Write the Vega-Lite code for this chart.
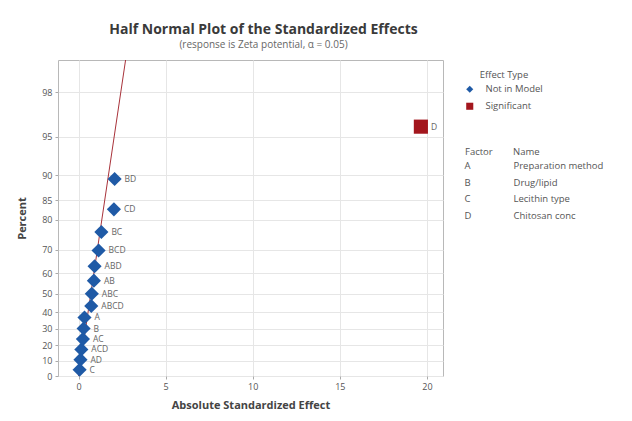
{
  "$schema": "https://vega.github.io/schema/vega-lite/v6.json",
  "width": 385,
  "height": 316,
  "autosize": {"type": "none"},
  "padding": {"left": 58, "top": 60, "right": 189, "bottom": 45},
  "background": "white",
  "config": {
    "font": "Open Sans",
    "view": {"stroke": "#b8b8b8", "strokeWidth": 1},
    "axis": {
      "domain": false,
      "gridColor": "#e6e6e6",
      "gridWidth": 1,
      "tickColor": "#aaaaaa",
      "tickSize": 3,
      "labelColor": "#555555",
      "labelFontSize": 9,
      "labelPadding": 3,
      "titleColor": "#444444",
      "titleFontSize": 11,
      "titleFontWeight": "bold"
    },
    "legend": {
      "labelColor": "#555555",
      "titleColor": "#555555",
      "labelFontSize": 9.5,
      "titleFontSize": 9.5,
      "titleFontWeight": "normal"
    }
  },
  "title": {
    "text": "Half Normal Plot of the Standardized Effects",
    "subtitle": "(response is Zeta potential, α = 0.05)",
    "fontSize": 14,
    "fontWeight": "bold",
    "color": "#3a3a3a",
    "subtitleFontSize": 10,
    "subtitleColor": "#666666",
    "subtitlePadding": 3,
    "offset": 8,
    "dx": 13
  },
  "datasets": {
    "effects": [
      {"term": "C", "effect": 0.06, "score": 0.0514, "type": "Not in Model"},
      {"term": "AD", "effect": 0.11, "score": 0.1341, "type": "Not in Model"},
      {"term": "ACD", "effect": 0.16, "score": 0.2176, "type": "Not in Model"},
      {"term": "AC", "effect": 0.25, "score": 0.3024, "type": "Not in Model"},
      {"term": "B", "effect": 0.29, "score": 0.3892, "type": "Not in Model"},
      {"term": "A", "effect": 0.34, "score": 0.4796, "type": "Not in Model"},
      {"term": "ABCD", "effect": 0.73, "score": 0.5738, "type": "Not in Model"},
      {"term": "ABC", "effect": 0.76, "score": 0.6745, "type": "Not in Model"},
      {"term": "AB", "effect": 0.88, "score": 0.7817, "type": "Not in Model"},
      {"term": "ABD", "effect": 0.92, "score": 0.8991, "type": "Not in Model"},
      {"term": "BCD", "effect": 1.15, "score": 1.029, "type": "Not in Model"},
      {"term": "BC", "effect": 1.31, "score": 1.1804, "type": "Not in Model"},
      {"term": "CD", "effect": 2.03, "score": 1.3658, "type": "Not in Model"},
      {"term": "BD", "effect": 2.07, "score": 1.6143, "type": "Not in Model"},
      {"term": "D", "effect": 19.65, "score": 2.0437, "type": "Significant"}
    ],
    "refline": [
      {"effect": 0, "score": 0},
      {"effect": 2.7, "score": 2.59}
    ],
    "factors": [
      {"Factor": "A", "Name": "Preparation method"},
      {"Factor": "B", "Name": "Drug/lipid"},
      {"Factor": "C", "Name": "Lecithin type"},
      {"Factor": "D", "Name": "Chitosan conc"}
    ]
  },
  "layer": [
    {
      "data": {"name": "refline"},
      "mark": {"type": "line", "color": "#a8323a", "strokeWidth": 1},
      "encoding": {
        "x": {
          "field": "effect",
          "type": "quantitative",
          "scale": {"domain": [-1.18, 20.92], "nice": false, "zero": false},
          "axis": {
            "values": [0, 5, 10, 15, 20],
            "tickCount": 10,
            "title": "Absolute Standardized Effect",
            "titlePadding": 8
          }
        },
        "y": {
          "field": "score",
          "type": "quantitative",
          "scale": {"domain": [0, 2.59], "nice": false, "zero": false},
          "axis": {
            "values": [0, 0.1257, 0.2533, 0.3853, 0.5244, 0.6745, 0.8416, 1.0364, 1.2816, 1.4395, 1.6449, 1.96, 2.3263],
            "tickCount": 20,
            "labelExpr": "format(200*cumulativeNormal(datum.value)-100, '.0f')",
            "labelOverlap": false,
            "labelSeparation": 0,
            "title": "Percent",
            "titlePadding": 14
          }
        }
      }
    },
    {
      "data": {"name": "effects"},
      "mark": {"type": "point", "filled": true, "opacity": 1, "size": 200},
      "encoding": {
        "x": {"field": "effect", "type": "quantitative"},
        "y": {"field": "score", "type": "quantitative"},
        "color": {
          "field": "type",
          "type": "nominal",
          "scale": {"domain": ["Not in Model", "Significant"], "range": ["#1f5aa6", "#a3161d"]},
          "legend": {
            "title": "Effect Type",
            "titleAnchor": "middle",
            "orient": "none",
            "legendX": 407,
            "legendY": 10,
            "symbolSize": 50,
            "labelOffset": 11,
            "rowPadding": 6
          }
        },
        "shape": {
          "field": "type",
          "type": "nominal",
          "scale": {"domain": ["Not in Model", "Significant"], "range": ["diamond", "square"]},
          "legend": {
            "title": "Effect Type",
            "titleAnchor": "middle",
            "orient": "none",
            "legendX": 407,
            "legendY": 10,
            "symbolSize": 50,
            "labelOffset": 11,
            "rowPadding": 6
          }
        }
      }
    },
    {
      "data": {"name": "effects"},
      "mark": {"type": "text", "align": "left", "baseline": "middle", "dx": 10, "fontSize": 8.5, "color": "#666666"},
      "encoding": {
        "x": {"field": "effect", "type": "quantitative"},
        "y": {"field": "score", "type": "quantitative"},
        "text": {"field": "term"}
      }
    },
    {
      "data": {"name": "factors"},
      "mark": {"type": "point", "opacity": 0},
      "encoding": {
        "x": {"datum": 1, "type": "quantitative"},
        "y": {"datum": 1, "type": "quantitative"},
        "strokeDash": {
          "field": "Factor",
          "type": "nominal",
          "legend": {
            "title": "Factor",
            "orient": "none",
            "legendX": 407,
            "legendY": 87,
            "symbolOpacity": 0,
            "symbolSize": 0,
            "symbolStrokeWidth": 0,
            "labelOffset": -10,
            "rowPadding": 5.5
          }
        },
        "stroke": {
          "field": "Name",
          "type": "nominal",
          "sort": ["Preparation method", "Drug/lipid", "Lecithin type", "Chitosan conc"],
          "legend": {
            "title": "Name",
            "orient": "none",
            "legendX": 455,
            "legendY": 87,
            "symbolOpacity": 0,
            "symbolSize": 0,
            "symbolStrokeWidth": 0,
            "labelOffset": -9,
            "rowPadding": 5.5
          }
        }
      }
    }
  ]
}
